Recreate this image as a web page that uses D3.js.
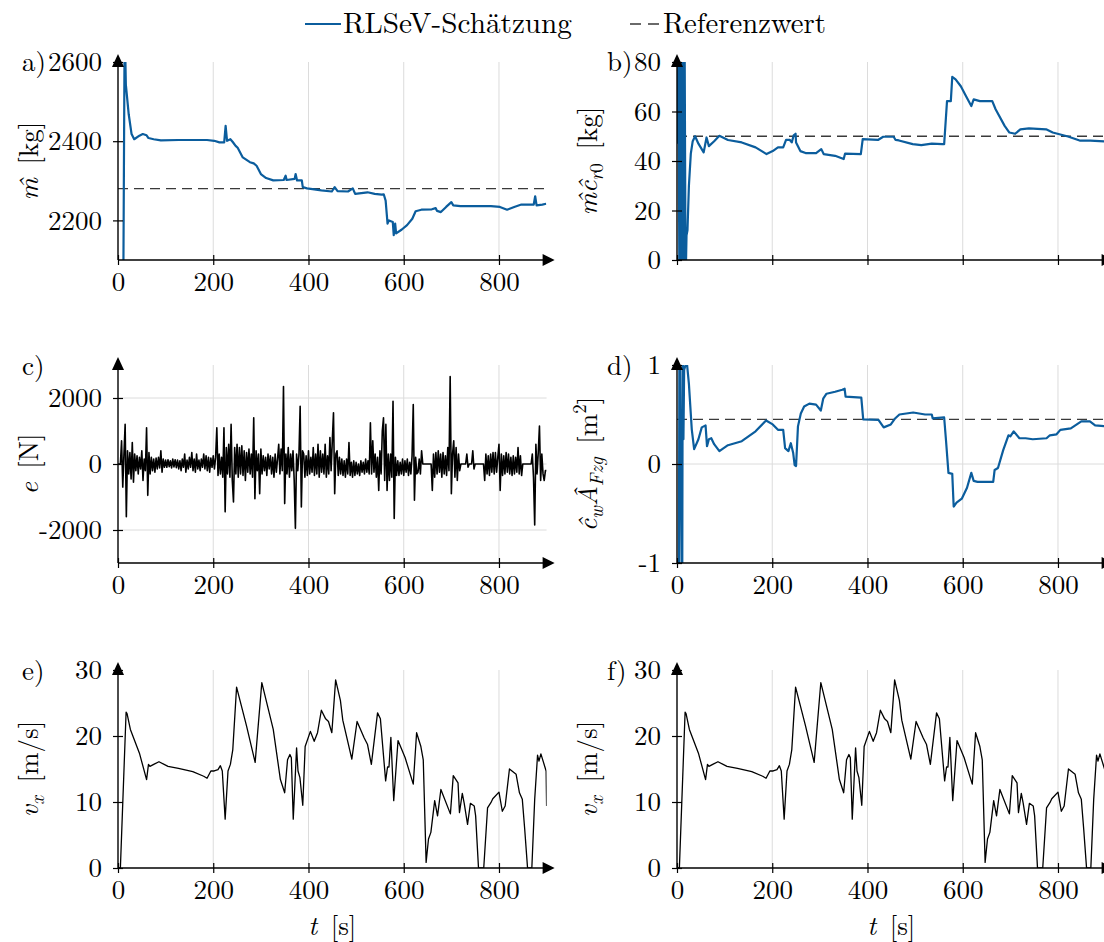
<!DOCTYPE html>
<html>
<head>
<meta charset="utf-8">
<script src="https://cdn.jsdelivr.net/npm/d3@7"></script>
<style>
  body { margin: 0; background: #fff; }
</style>
</head>
<body>
<svg id="chart" width="1104" height="942"></svg>
<script>
// DATOS

// a) masa estimada [t en s, kg]
var masaEstimada = [[11,2000],[14,2700],[16.5,2543],[22.5,2468],[28.5,2418],[34,2405],[45,2414],[52,2418],[60,2415],[64,2408],[75,2405],[90,2402],[127,2403],[187,2403],[202,2401],[213,2397],[223,2397],[226,2439],[229,2401],[236,2405],[241,2398],[247,2388],[251,2384],[262,2359],[277,2347],[285,2344],[291,2338],[300,2317],[311,2307],[326,2301],[348,2302],[352,2313],[354,2302],[371,2305],[373,2317],[376,2301],[386,2301],[388,2284],[397,2281],[427,2276],[449,2273],[455,2284],[461,2274],[483,2273],[493,2281],[498,2267],[524,2271],[539,2267],[554,2265],[558,2266],[562,2250],[566,2192],[569,2200],[577,2196],[579,2163],[582,2192],[584,2167],[596,2177],[607,2188],[618,2204],[625,2223],[637,2227],[659,2228],[667,2231],[670,2224],[678,2221],[689,2234],[700,2246],[704,2238],[719,2236],[749,2236],[783,2236],[802,2234],[817,2227],[832,2234],[847,2240],[873,2240],[876,2261],[879,2238],[891,2240],[899,2242]];
var masaReferencia = 2280;

// b) m*c_r0 estimado [t, kg]
var rodaduraEstimada = [[1,47],[3,90],[5,-10],[7,90],[9,-10],[12,90],[14,-10],[16,90],[18,-10],[20,10],[22,12],[25,30],[29,43],[33,48],[38,50],[45,47],[56,43.5],[62,49.5],[67,46],[78,48],[89,50.2],[107,48.5],[136,47.5],[165,45.5],[188,42.8],[201,44],[212,45.5],[223,45.5],[229,48.5],[237,48.5],[241,47.5],[245,50.4],[249,51],[250,47.5],[259,44],[270,43.2],[292,43.2],[303,44.8],[308,42.8],[332,42.1],[350,40.8],[353,43],[386,42.8],[390,48.8],[422,48.5],[433,49.8],[455,49.8],[459,48.5],[466,48.3],[495,46.8],[513,46.4],[535,47],[557,46.8],[561,46.8],[567,64.2],[575,64.2],[578,74],[585,73],[596,70.2],[607,66.2],[618,62.2],[623,64.9],[636,64.2],[662,64.2],[669,60.9],[688,54.2],[698,51.5],[710,51],[721,52.8],[739,53.2],[775,52.8],[789,51.5],[803,50.8],[821,49.9],[847,48.2],[868,48.2],[900,47.9]];
var rodaduraReferencia = 50;

// c) error e [N], muestreado cada 2.5 s
var errorPaso = 2.5;
var errorValores = [
  0,0,0,700, -700,300,1200,-1600, 400,-300,350,-450, 650,-550,300,-200, 250,-300,200,-150,
  400,-500,150,-200, 1100,-950,350,-300, 200,-200,150,-250, 180,-150,200,-120, 400,-250,150,-100,
  120,-100,130,-80, 100,-120,150,-90, 130,-110,120,-150, 100,-200,150,-100, 300,-250,120,-150,
  200,-100,350,-200, 150,-250,300,-150, 120,-200,150,-100, 300,-150,250,-200, 200,-250,180,-100,
  250,-150,200,1100, -350,300,-300,200, -400,1100,-1450,500, -300,600,-400,1200, -500,-1150,500,-300,
  600,-400,500,-300, 550,-350,400,-500, 350,-250,450,-300, 300,-400,1400,-1050, 400,-200,300,-900,
  450,-300,250,-200, 200,-350,300,-150, 250,-300,200,-400, 300,-250,150,600, -300,450,-200,2350,
  -1200,300,-300,500, -400,300,-200,400, -500,-1950,300,-200, 300,1750,-1300,400, 300,-400,250,-350,
  400,-300,200,-250, 500,-350,300,-300, 600,-400,400,-250, 300,-300,600,-400, 250,-300,800,-200,
  700,1550,-900,300, 400,-350,200,-300, 150,-350,100,-400, 150,-300,650,-350, 50,-400,100,-350,
  50,-300,0,-350, 100,-250,50,-300, 150,-250,100,-300, 1250,-300,700,-250, 300,-400,200,-800,
  400,-300,1000,1400, -500,1200,-800,300, -500,300,-400,1900, -1650,200,-350,100, -350,50,-300,150,
  -350,100,-250,150, -350,50,-300,250, 1800,-1100,200,-300, -250,150,-300,400, 0,0,0,0,
  0,0,0,0, -800,300,-400,350, -300,400,-250,300, -400,350,-300,250, -350,500,-200,2650,
  -900,300,700,-400, 500,-500,300,-200, 0,0,0,0, 0,300,-100,0, 0,0,400,-150,
  0,0,0,0, 0,0,0,0, -500,300,-300,250, -350,300,-250,350, -300,350,-250,200,
  600,-800,300,-350, 250,-300,350,-250, 300,-300,200,-350, 250,-300,200,-250, 500,-300,250,-350,
  0,0,0,0, 0,0,0,0, 300,-400,-1850,600, -300,350,1150,-500, 300,-300,-500,-200,
  -200
];

// d) cw*A estimado [t, m^2]
var aeroEstimada = [[4,-1.2],[5,1.2],[6,1.2],[10,-1.2],[11,-1.2],[12,1.2],[13.5,0.25],[15,0.95],[18,1.0],[21,1.01],[25,0.81],[31,0.35],[36,0.15],[45,0.25],[52,0.37],[60,0.39],[63,0.18],[67,0.25],[72,0.26],[78,0.2],[89,0.13],[107,0.19],[136,0.23],[165,0.33],[187,0.44],[201,0.4],[212,0.345],[223,0.345],[227,0.16],[234,0.13],[239,0.21],[244,0.11],[247,-0.01],[250,-0.02],[254,0.38],[260,0.51],[267,0.58],[278,0.61],[292,0.6],[302,0.54],[307,0.66],[314,0.71],[332,0.73],[347,0.75],[352,0.76],[354,0.68],[387,0.67],[391,0.45],[423,0.445],[434,0.37],[449,0.4],[458,0.46],[467,0.5],[496,0.52],[521,0.5],[535,0.5],[537,0.46],[561,0.47],[565,0.23],[570,-0.09],[578,-0.1],[581,-0.43],[587,-0.39],[598,-0.35],[609,-0.24],[618,-0.09],[623,-0.17],[631,-0.18],[645,-0.18],[664,-0.18],[667,-0.06],[674,-0.04],[685,0.14],[696,0.29],[700,0.28],[707,0.33],[719,0.26],[732,0.26],[747,0.25],[776,0.26],[783,0.29],[797,0.3],[805,0.345],[827,0.36],[849,0.43],[867,0.43],[878,0.39],[900,0.38]];
var aeroReferencia = 0.45;

// e) y f) velocidad longitudinal [t, m/s]
var velocidad = [[0,0],[5,0],[17,23.6],[19,23.4],[26,21],[45,17.4],[60,13.4],[64,15.7],[67,15.4],[75,15.7],[86,16.1],[105,15.4],[127,15.1],[157,14.6],[180,13.9],[187,13.6],[195,14.7],[202,14.7],[210,14.9],[215,15.5],[219,14.7],[225,7.4],[231,14.7],[236,15.7],[241,17.9],[249,27.4],[270,21.5],[288,16],[302,28.1],[326,21],[341,13.4],[350,11.4],[356,16.4],[361,17.2],[364,16.7],[368,7.4],[375,18.2],[378,14.7],[382,13.7],[388,9.5],[393,18.4],[404,20.7],[412,19.2],[419,20.5],[427,23.9],[436,22.6],[442,22.2],[449,20.5],[457,28.5],[467,25.4],[472,22.4],[491,16.5],[502,22.2],[517,19.7],[524,18.7],[532,15.7],[545,23.5],[551,22.6],[562,13.2],[566,15.3],[569,15.3],[573,19.8],[579,10.2],[588,19.3],[603,16.7],[620,12.7],[627,20.5],[636,18.4],[641,16.4],[647,0.85],[652,4.4],[657,5.4],[665,10.2],[671,7.9],[678,11.9],[698,8.2],[704,14],[714,12.9],[717,8.4],[723,11.3],[727,9.8],[734,6.6],[740,9.8],[748,9.4],[751,7.9],[757,0],[768,0],[776,9.1],[783,9.9],[787,10.5],[800,11.5],[807,8.6],[813,9.4],[822,15],[836,14.2],[843,11.4],[849,10.4],[854,5.9],[860,0],[869,0],[875,10.4],[881,17.1],[884,16.2],[888,17.3],[899,14.7],[900,9.4]];

// ticks
var ticksX = [0, 200, 400, 600, 800];
var ticksMasa = [2200, 2400, 2600];
var ticksRodadura = [0, 20, 40, 60, 80];
var ticksError = [-2000, 0, 2000];
var ticksAero = [-1, 0, 1];
var ticksVelocidad = [0, 10, 20, 30];

// la serie del error como pares [t, e]
var errorSerie = errorValores.map((v, i) => [i * errorPaso, v]);

// DIBUJO

var AZUL = "#0b5d9d";
var FUENTE = "'Latin Modern Roman', 'Liberation Serif', serif";
var anchoPanel = 428.6, altoPanel = 198;
var columnas = [118, 677];
var filas = [62, 365, 670];
var svg = d3.select("#chart");
var defs = svg.append("defs");

var paneles = [
    { clave: "a", col: 0, fila: 0, serie: masaEstimada, dominioY: [2100, 2600], ticksY: ticksMasa, referencia: masaReferencia, color: AZUL, grosor: 2.2, etiquetasX: true,
      titulo: [{ t: "m\u0302", i: true }, { t: "\u2002[kg]" }] },
    { clave: "b", col: 1, fila: 0, serie: rodaduraEstimada, dominioY: [0, 80], ticksY: ticksRodadura, referencia: rodaduraReferencia, color: AZUL, grosor: 2.2, etiquetasX: false,
      titulo: [{ t: "m\u0302", i: true }, { t: "\u0109", i: true }, { t: "r", i: true, s: "sub" }, { t: "0", s: "sub" }, { t: "\u2002[kg]" }] },
    { clave: "c", col: 0, fila: 1, serie: errorSerie, dominioY: [-3000, 3000], ticksY: ticksError, rejillaY: ticksError, color: "#000", grosor: 1.6, etiquetasX: true,
      titulo: [{ t: "e", i: true }, { t: "\u2002[N]" }] },
    { clave: "d", col: 1, fila: 1, serie: aeroEstimada, dominioY: [-1, 1], ticksY: ticksAero, rejillaY: [0], referencia: aeroReferencia, color: AZUL, grosor: 2.2, etiquetasX: true,
      titulo: [{ t: "\u0109", i: true }, { t: "w", i: true, s: "sub" }, { t: "\u00c2", i: true }, { t: "Fzg", i: true, s: "sub" }, { t: "\u2002[m" }, { t: "2", s: "sup" }, { t: "]" }] },
    { clave: "e", col: 0, fila: 2, serie: velocidad, dominioY: [0, 30], ticksY: ticksVelocidad, color: "#000", grosor: 1.3, etiquetasX: true, tituloX: true,
      titulo: [{ t: "v", i: true }, { t: "x", i: true, s: "sub" }, { t: "\u2002[m/s]" }] },
    { clave: "f", col: 1, fila: 2, serie: velocidad, dominioY: [0, 30], ticksY: ticksVelocidad, color: "#000", grosor: 1.3, etiquetasX: true, tituloX: true,
      titulo: [{ t: "v", i: true }, { t: "x", i: true, s: "sub" }, { t: "\u2002[m/s]" }] }
];

// escribe un texto con partes en cursiva, subíndice o superíndice
function escribirPartes(texto, partes) {
    var actual = 0;
    partes.forEach(function (q) {
        var ts = texto.append("tspan").text(q.t);
        if (q.i) ts.style("font-style", "italic");
        var objetivo = q.s === "sub" ? 6 : (q.s === "sup" ? -11 : 0);
        if (q.s) ts.style("font-size", "19px");
        if (objetivo !== actual) ts.attr("dy", objetivo - actual);
        actual = objetivo;
    });
}

function dibujarPanel(p) {
    var x0 = columnas[p.col], y0 = filas[p.fila];
    var yb = y0 + altoPanel, xe = x0 + anchoPanel;
    var x = d3.scaleLinear().domain([0, 900]).range([x0, xe]);
    var y = d3.scaleLinear().domain(p.dominioY).range([yb, y0]);
    var g = svg.append("g").attr("class", "panel-" + p.clave);

    // rejilla
    g.selectAll(".rejillaX").data(ticksX.slice(1)).enter().append("line")
        .attr("x1", d => x(d)).attr("x2", d => x(d))
        .attr("y1", y0).attr("y2", yb)
        .attr("stroke", "#dcdcdc").attr("stroke-width", 1);
    g.selectAll(".rejillaY").data(p.rejillaY || []).enter().append("line")
        .attr("x1", x0).attr("x2", xe)
        .attr("y1", d => y(d)).attr("y2", d => y(d))
        .attr("stroke", "#dcdcdc").attr("stroke-width", 1);

    var idClip = "recorte-" + p.clave;
    defs.append("clipPath").attr("id", idClip).append("rect")
        .attr("x", x0).attr("y", y0).attr("width", anchoPanel).attr("height", altoPanel);

    // valor de referencia
    if (p.referencia != null) {
        g.append("line")
            .attr("x1", x(0)).attr("x2", x(900))
            .attr("y1", y(p.referencia)).attr("y2", y(p.referencia))
            .attr("stroke", "#3a3a3a").attr("stroke-width", 1.3)
            .attr("stroke-dasharray", "10,6");
    }

    // serie
    var linea = d3.line().x(d => x(d[0])).y(d => y(d[1]));
    g.append("path").datum(p.serie)
        .attr("d", linea)
        .attr("fill", "none")
        .attr("stroke", p.color)
        .attr("stroke-width", p.grosor)
        .attr("stroke-linejoin", "round")
        .attr("clip-path", "url(#" + idClip + ")");

    // eje x
    var ejeX = d3.axisBottom(x).tickValues(ticksX).tickSize(5).tickPadding(7)
        .tickFormat(p.etiquetasX ? (d => String(d)) : (() => ""));
    var gx = g.append("g").attr("transform", "translate(0," + yb + ")").call(ejeX);
    gx.select(".domain").remove();
    gx.selectAll(".tick line").attr("y1", -5).attr("stroke-width", 1.2);

    // eje y
    var ejeY = d3.axisLeft(y).tickValues(p.ticksY).tickSize(5).tickPadding(11)
        .tickFormat(d => String(d));
    var gy = g.append("g").attr("transform", "translate(" + x0 + ",0)").call(ejeY);
    gy.select(".domain").remove();
    gy.selectAll(".tick line").attr("x1", 5).attr("stroke-width", 1.2);

    // líneas de ejes con flechas
    g.append("line").attr("x1", x0).attr("x2", xe + 2).attr("y1", yb).attr("y2", yb)
        .attr("stroke", "#000").attr("stroke-width", 1.4);
    g.append("line").attr("x1", x0).attr("x2", x0).attr("y1", yb).attr("y2", y0 - 2)
        .attr("stroke", "#000").attr("stroke-width", 1.4);
    g.append("path")
        .attr("d", "M" + (xe + 8) + "," + yb + "L" + (xe - 4) + "," + (yb - 6) + "L" + (xe - 4) + "," + (yb + 6) + "Z")
        .attr("fill", "#000");
    g.append("path")
        .attr("d", "M" + x0 + "," + (y0 - 8) + "L" + (x0 - 6) + "," + (y0 + 5) + "L" + (x0 + 6) + "," + (y0 + 5) + "Z")
        .attr("fill", "#000");

    // título del eje y (rotado)
    var tituloY = g.append("text")
        .attr("transform", "translate(" + (p.col === 0 ? 38 : 597) + "," + (y0 + altoPanel / 2) + ") rotate(-90)")
        .attr("text-anchor", "middle");
    escribirPartes(tituloY, p.titulo);

    // letra del panel
    g.append("text")
        .attr("x", p.col === 0 ? 22 : 607)
        .attr("y", y0 + (p.fila === 0 ? 9 : 10))
        .text(p.clave + ")");

    // título del eje x
    if (p.tituloX) {
        var tituloX = g.append("text")
            .attr("x", (x0 + xe) / 2)
            .attr("y", 935)
            .attr("text-anchor", "middle");
        escribirPartes(tituloX, [{ t: "t", i: true }, { t: "\u2002[s]" }]);
    }
}

paneles.forEach(dibujarPanel);

// LEYENDA
var leyenda = svg.append("g").attr("class", "leyenda");
leyenda.append("line").attr("x1", 305).attr("x2", 341).attr("y1", 24).attr("y2", 24)
    .attr("stroke", AZUL).attr("stroke-width", 2.2);
leyenda.append("text").attr("x", 343).attr("y", 33)
    .style("font-size", "28.5px")
    .attr("textLength", 229).attr("lengthAdjust", "spacingAndGlyphs")
    .text("RLSeV-Schätzung");
leyenda.append("line").attr("x1", 630).attr("x2", 660).attr("y1", 24).attr("y2", 24)
    .attr("stroke", "#3a3a3a").attr("stroke-width", 1.3).attr("stroke-dasharray", "11,7");
leyenda.append("text").attr("x", 663).attr("y", 33)
    .style("font-size", "28.5px")
    .attr("textLength", 163).attr("lengthAdjust", "spacingAndGlyphs")
    .text("Referenzwert");

// fuente tipo LaTeX para todos los textos
svg.selectAll("text")
    .style("font-family", FUENTE)
    .style("fill", "#000");
svg.selectAll("text").filter(function () { return !this.style.fontSize; })
    .style("font-size", "27px");
</script>
</body>
</html>
